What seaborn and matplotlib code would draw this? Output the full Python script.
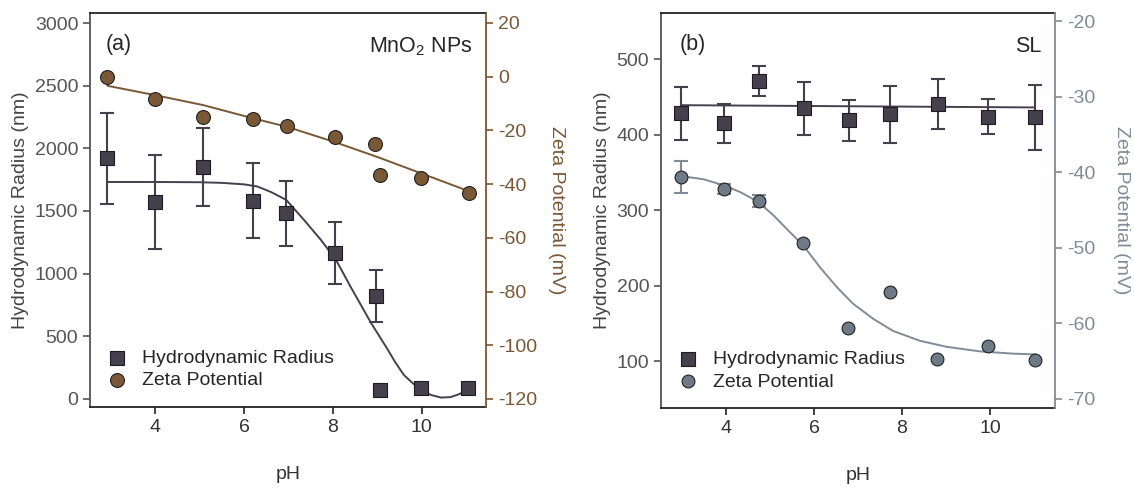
import numpy as np
import pandas as pd
import matplotlib.pyplot as plt
import seaborn as sns

sns.set_style("ticks")
plt.rcParams['font.family'] = ['Liberation Sans', 'DejaVu Sans']
plt.rcParams['mathtext.fontset'] = 'custom'
plt.rcParams['mathtext.rm'] = 'Liberation Sans'
plt.rcParams['axes.unicode_minus'] = False

# colours
sq_col = "#45414c"
brown = "#7a5836"
slate = "#6f7a87"
slate_line = "#808b98"
axis_grey = "#555555"

# ---- panel (a): MnO2 NPs ----
ph_a_r = [2.92, 4.0, 5.08, 6.2, 6.95, 8.05, 8.97, 9.07, 9.99, 11.05]
r_a = [1920, 1570, 1850, 1580, 1480, 1165, 822, 72, 88, 88]
r_a_err = [365, 375, 310, 300, 260, 250, 210, 0, 0, 0]

ph_a_z = [2.92, 4.0, 5.08, 6.19, 6.96, 8.05, 8.95, 9.06, 9.99, 11.07]
z_a = [0.0, -8.5, -15.0, -15.9, -18.3, -22.4, -24.9, -36.7, -37.8, -43.2]

# fitted curves
fit_ph_a_r = [2.92, 4.0, 5.0, 5.5, 6.0, 6.3, 6.6, 6.95, 7.35, 7.73, 8.07, 8.4,
              8.86, 9.24, 9.4, 9.6, 9.8, 9.99, 10.2, 10.44, 10.65, 10.85, 11.07]
fit_r_a = [1731, 1731, 1729, 1724, 1712, 1695, 1652, 1588, 1428, 1269, 1109, 894,
           606, 391, 295, 190, 125, 75, 32, 10, 14, 38, 80]
fit_ph_a_z = [2.92, 4.0, 5.08, 6.2, 6.97, 8.05, 9.0, 9.99, 11.07]
fit_z_a = [-3.4, -6.9, -10.6, -15.5, -18.7, -24.4, -29.9, -36.0, -42.7]

# ---- panel (b): SL ----
ph_b_r = [2.98, 3.95, 4.75, 5.77, 6.8, 7.73, 8.82, 9.95, 11.02]
r_b = [428, 415, 471, 435, 419, 427, 440, 424, 423]
r_b_err = [35, 26, 20, 35, 27, 38, 33, 23, 43]

ph_b_z = [2.98, 3.95, 4.75, 5.75, 6.78, 7.73, 8.8, 9.95, 11.02]
z_b = [-40.6, -42.2, -43.8, -49.4, -60.6, -55.8, -64.7, -63.0, -64.8]
z_b_err = [2.1, 0.7, 0.8, 0, 0, 0, 0, 0, 0]

fit_ph_b_r = [2.98, 11.02]
fit_r_b = [439, 436]
fit_ph_b_z = [2.98, 3.48, 3.94, 4.32, 4.73, 5.08, 5.45, 5.76, 6.14, 6.52, 6.89,
              7.35, 7.8, 8.41, 9.02, 9.77, 10.53, 11.02]
fit_z_b = [-40.5, -40.9, -41.7, -42.6, -43.9, -45.7, -47.9, -49.7, -52.6, -55.2,
           -57.4, -59.4, -61.0, -62.3, -63.1, -63.7, -64.0, -64.1]

fig = plt.figure(figsize=(11.34, 4.9), dpi=100)
ax_a = fig.add_axes([0.0794, 0.1694, 0.3492, 0.8041])
ax_b = fig.add_axes([0.5829, 0.1673, 0.3474, 0.8061])


def draw_panel(ax, ph_r, r, r_err, fit_ph_r, fit_r, ph_z, z, z_err, fit_ph_z, fit_z,
               zcol, zline, circ_size):
    ax2 = ax.twinx()
    # hydrodynamic radius
    sns.lineplot(x=fit_ph_r, y=fit_r, ax=ax, color=sq_col, lw=1.4, zorder=2)
    e = np.array(r_err)
    m = e > 0
    ax.errorbar(np.array(ph_r)[m], np.array(r)[m], yerr=e[m], fmt='none',
                ecolor=sq_col, elinewidth=1.5, capsize=5, capthick=1.5, zorder=3)
    sns.scatterplot(x=ph_r, y=r, ax=ax, marker='s', s=95, color=sq_col,
                    edgecolor="#1e1c22", linewidth=0.8, zorder=4,
                    label="Hydrodynamic Radius")
    # zeta potential
    sns.lineplot(x=fit_ph_z, y=fit_z, ax=ax2, color=zline, lw=1.4, zorder=2)
    if z_err is not None:
        ze = np.array(z_err)
        mz = ze > 0
        ax2.errorbar(np.array(ph_z)[mz], np.array(z)[mz], yerr=ze[mz], fmt='none',
                     ecolor=zline, elinewidth=1.5, capsize=5, capthick=1.5, zorder=3)
    sns.scatterplot(x=ph_z, y=z, ax=ax2, marker='o', s=circ_size, color=zcol,
                    edgecolor="#222222", linewidth=0.8, zorder=4,
                    label="Zeta Potential")
    return ax2


def style_panel(ax, ax2, zcol, zpad):
    for side in ['top', 'bottom']:
        ax.spines[side].set_color("#222222")
        ax.spines[side].set_linewidth(1.3)
    ax.spines['left'].set_color(axis_grey)
    ax.spines['left'].set_linewidth(1.3)
    ax.spines['right'].set_visible(False)
    for side in ['top', 'bottom', 'left']:
        ax2.spines[side].set_visible(False)
    ax2.spines['right'].set_visible(True)
    ax2.spines['right'].set_color(zcol)
    ax2.spines['right'].set_linewidth(1.3)
    ax.tick_params(axis='y', direction='out', length=5, width=1.2,
                   colors=axis_grey, labelsize=14)
    ax.tick_params(axis='x', direction='out', length=5, width=1.2,
                   color="#222222", labelcolor="#333333", labelsize=14)
    ax2.tick_params(axis='y', direction='out', length=5, width=1.2,
                    colors=zcol, labelsize=14)
    ax.set_xticks([4, 6, 8, 10])
    ax.set_xlabel("pH", fontsize=14, color="#333333", labelpad=22)
    ax.set_ylabel("Hydrodynamic Radius (nm)", fontsize=14, color="#444444", labelpad=4)
    ax2.set_ylabel("Zeta Potential (mV)", fontsize=14, color=zcol, rotation=270,
                   labelpad=zpad)
    h1, l1 = ax.get_legend_handles_labels()
    h2, l2 = ax2.get_legend_handles_labels()
    ax.get_legend().remove()
    ax2.get_legend().remove()
    ax2.legend(h1 + h2, l1 + l2, loc='lower left', bbox_to_anchor=(-0.025, 0.0),
               frameon=False, fontsize=14, handletextpad=0.3, labelspacing=0.25,
               borderaxespad=0.5)


# panel (a)
ax2_a = draw_panel(ax_a, ph_a_r, r_a, r_a_err, fit_ph_a_r, fit_r_a,
                   ph_a_z, z_a, None, fit_ph_a_z, fit_z_a, brown, brown, 100)
ax_a.set_xlim(2.53, 11.45)
ax_a.set_ylim(-65, 3080)
ax_a.set_yticks([0, 500, 1000, 1500, 2000, 2500, 3000])
ax2_a.set_ylim(-123.0, 23.7)
ax2_a.set_yticks([-120, -100, -80, -60, -40, -20, 0, 20])
style_panel(ax_a, ax2_a, brown, 20)
ax_a.text(0.04, 0.92, "(a)", transform=ax_a.transAxes, fontsize=15.5, va='center')
ax_a.text(0.965, 0.915, "MnO$_\\mathregular{2}$ NPs", transform=ax_a.transAxes,
          fontsize=15.5, va='center', ha='right')

# panel (b)
ax2_b = draw_panel(ax_b, ph_b_r, r_b, r_b_err, fit_ph_b_r, fit_r_b,
                   ph_b_z, z_b, z_b_err, fit_ph_b_z, fit_z_b, slate, slate_line, 85)
ax_b.set_xlim(2.52, 11.48)
ax_b.set_ylim(38, 561)
ax_b.set_yticks([100, 200, 300, 400, 500])
ax2_b.set_ylim(-71.2, -18.9)
ax2_b.set_yticks([-70, -60, -50, -40, -30, -20])
style_panel(ax_b, ax2_b, slate_line, 25)
ax_b.text(0.048, 0.92, "(b)", transform=ax_b.transAxes, fontsize=15.5, va='center')
ax_b.text(0.965, 0.915, "SL", transform=ax_b.transAxes,
          fontsize=15.5, va='center', ha='right')

fig.savefig("out.png", dpi=100)
